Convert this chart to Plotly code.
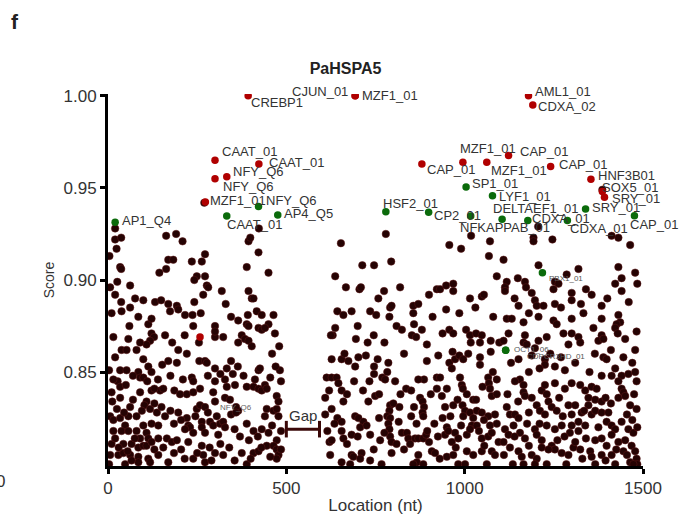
import plotly.graph_objects as go

# ---------------- data ----------------
# background (unlabelled) binding sites: (location nt, score)
bg_left = [
(20,0.922),(37,0.923),(24,0.917),(4,0.913),(163,0.924),(191,0.925),(209,0.921),(394,0.921),(399,0.923),(422,0.915),
(34,0.907),(37,0.906),(169,0.911),(183,0.911),(163,0.906),(144,0.904),(235,0.910),(263,0.910),(272,0.914),(389,0.907),
(450,0.904),(249,0.902),(272,0.902),(242,0.900),(277,0.897),(281,0.896),(26,0.899),(62,0.897),(6,0.896),(319,0.894),
(394,0.894),(267,0.892),(20,0.892),(37,0.888),(76,0.890),(99,0.889),(132,0.888),(149,0.889),(169,0.887),(193,0.886),
(197,0.884),(174,0.883),(242,0.888),(330,0.887),(403,0.890),(408,0.890),(10,0.882),(38,0.883),(62,0.885),(216,0.881),
(237,0.881),(260,0.882),(417,0.883),(392,0.881),(431,0.881),(464,0.881),(113,0.876),(122,0.879),(239,0.875),(300,0.875),
(389,0.876),(394,0.875),(122,0.871),(129,0.869),(118,0.867),(108,0.865),(90,0.866),(57,0.868),(15,0.869),(300,0.869),
(323,0.869),(300,0.872),(375,0.870),(384,0.868),(394,0.867),(365,0.866),(403,0.864),(422,0.874),(431,0.873),(450,0.876),
(440,0.874),(468,0.871),(480,0.864),(38,0.862),(52,0.862),(80,0.862),(197,0.862),(221,0.860),(99,0.857),(113,0.853),
(122,0.850),(152,0.854),(169,0.856),(193,0.855),(256,0.856),(272,0.856),(277,0.855),(300,0.852),(333,0.852),(345,0.856),
(364,0.853),(422,0.851),(426,0.852),(482,0.851),(20,0.858),(3,0.851),(34,0.851),(52,0.851),(85,0.850),(27,0.845),
(34,0.842),(10,0.839),(90,0.847),(99,0.847),(146,0.840),(155,0.841),(186,0.840),(202,0.838),(221,0.838),(239,0.839),
(258,0.841),(235,0.847),(239,0.845),(300,0.845),(295,0.839),(328,0.846),(333,0.842),(356,0.843),(389,0.842),(412,0.846),
(408,0.842),(422,0.841),(431,0.840),(440,0.843),(445,0.841),(473,0.837),(478,0.834),(90,0.839),(122,0.840),(130,0.841),
(62,0.831),(34,0.836),(108,0.834),(102,0.832),(118,0.830),(137,0.828),(249,0.830),(258,0.832),(272,0.831),(300,0.834),
(328,0.836),(342,0.835),(365,0.829),(445,0.830),(464,0.829),(473,0.830),(478,0.826),(6,0.826),(15,0.824),(34,0.825),
(48,0.821),(57,0.826),(15,0.818),(38,0.818),(57,0.818),(80,0.818),(90,0.814),(108,0.817),(113,0.814),(122,0.822),
(141,0.821),(99,0.821),(197,0.828),(221,0.825),(225,0.821),(230,0.820),(263,0.823),(263,0.820),(286,0.823),(295,0.821),
(314,0.822),(323,0.823),(328,0.820),(389,0.822),(408,0.818),(431,0.819),(440,0.826),(450,0.817),(473,0.813),(216,0.819),
(239,0.817),(272,0.817),(309,0.816),(10,0.811),(43,0.811),(66,0.811),(85,0.809),(99,0.810),(108,0.810),(122,0.812),
(141,0.814),(165,0.814),(179,0.812),(193,0.813),(225,0.812),(263,0.810),(300,0.806),(323,0.805),(375,0.806),(408,0.806),
(422,0.807),(445,0.810),(464,0.810),(473,0.808),(6,0.805),(29,0.805),(43,0.806),(62,0.805),(85,0.804),(113,0.803),
(141,0.805),(118,0.801),(85,0.801),(169,0.801),(239,0.803),(267,0.805),(272,0.801),(389,0.800),(478,0.805),(473,0.803),
(3,0.800),(48,0.800),(66,0.802),(20,0.928),(423,0.928),(270,0.942),(359,0.831),
(12,0.834),(25,0.830),(45,0.828),(70,0.835),(80,0.826),(95,0.829),(130,0.833),(150,0.831),(160,0.826),(175,0.829),
(185,0.822),(205,0.824),(245,0.826),(280,0.828),(305,0.826),(345,0.827),(355,0.819),(370,0.815),(395,0.813),(420,0.815),
(460,0.821),(485,0.818),(20,0.814),(30,0.809),(55,0.807),(75,0.814),(130,0.808),(155,0.809),(185,0.806),(205,0.808),
(215,0.803),(250,0.806),(285,0.809),(290,0.802),(315,0.811),(340,0.809),(355,0.802),(400,0.803),(430,0.809),(455,0.804),
(485,0.808),(15,0.846),(50,0.843),(70,0.848),(110,0.845),(140,0.846),(175,0.848),(210,0.846),(280,0.848),(315,0.849),
(350,0.849),(380,0.848),(455,0.847),(470,0.853),(485,0.845),(60,0.875),(85,0.880),(160,0.870),(180,0.866),(215,0.870),
(255,0.866),(345,0.880),(365,0.878),(460,0.860),
]
bg_mid = [
(779,0.925),(653,0.920),(957,0.919),(990,0.917),(1018,0.924),(1071,0.921),(1068,0.913),(1090,0.902),(713,0.908),(746,0.908),
(794,0.910),(637,0.902),(667,0.896),(705,0.895),(709,0.896),(774,0.894),(819,0.896),(758,0.890),(900,0.892),(922,0.895),
(931,0.895),(948,0.897),(968,0.898),(968,0.894),(1015,0.890),(1048,0.891),(1054,0.892),(643,0.883),(660,0.881),(683,0.883),
(735,0.883),(752,0.881),(791,0.885),(795,0.886),(789,0.880),(856,0.886),(870,0.887),(856,0.882),(948,0.884),(637,0.874),
(630,0.870),(625,0.870),(695,0.868),(728,0.866),(809,0.875),(824,0.873),(858,0.876),(852,0.870),(864,0.869),(894,0.865),
(938,0.871),(957,0.873),(968,0.871),(1004,0.873),(1015,0.870),(1032,0.871),(1048,0.870),(1043,0.866),(1017,0.866),(1073,0.867),
(1097,0.866),(627,0.857),(655,0.857),(663,0.860),(674,0.856),(693,0.853),(702,0.858),(723,0.859),(756,0.857),(746,0.853),
(786,0.855),(894,0.856),(926,0.859),(966,0.861),(957,0.855),(973,0.857),(985,0.859),(996,0.857),(1010,0.860),(1043,0.858),
(1043,0.854),(1073,0.861),(613,0.847),(627,0.847),(641,0.847),(646,0.844),(655,0.840),(733,0.845),(746,0.849),(769,0.847),
(783,0.850),(777,0.846),(836,0.841),(886,0.846),(922,0.847),(931,0.847),(964,0.852),(987,0.847),(992,0.843),(995,0.841),
(922,0.841),(936,0.837),(1006,0.838),(1024,0.835),(1032,0.835),(1066,0.847),(1068,0.844),(1079,0.850),(1071,0.841),(1076,0.837),
(1090,0.838),(609,0.836),(660,0.834),(730,0.834),(749,0.837),(791,0.832),(800,0.833),(817,0.831),(858,0.831),(875,0.836),
(882,0.834),(886,0.831),(945,0.831),(968,0.832),(994,0.832),(1001,0.829),(1015,0.828),(1034,0.829),(1048,0.828),(1066,0.826),
(1085,0.827),(609,0.827),(627,0.830),(643,0.825),(655,0.823),(693,0.826),(702,0.825),(716,0.823),(707,0.820),(789,0.829),
(783,0.826),(791,0.825),(786,0.822),(789,0.819),(882,0.828),(884,0.826),(938,0.825),(950,0.820),(996,0.826),(1024,0.825),
(1020,0.821),(1034,0.821),(1054,0.824),(1071,0.821),(1090,0.822),(621,0.812),(627,0.813),(655,0.818),(660,0.814),(683,0.816),
(735,0.816),(763,0.813),(791,0.815),(795,0.812),(809,0.811),(824,0.817),(838,0.817),(842,0.814),(847,0.811),(861,0.814),
(870,0.814),(884,0.814),(892,0.816),(895,0.818),(945,0.816),(954,0.818),(973,0.817),(982,0.814),(964,0.812),(1006,0.816),
(1015,0.819),(1048,0.814),(1066,0.815),(1076,0.817),(623,0.805),(655,0.801),(683,0.805),(688,0.804),(711,0.806),(707,0.803),
(735,0.802),(767,0.800),(795,0.806),(866,0.801),(870,0.805),(884,0.800),(908,0.807),(917,0.806),(950,0.804),(968,0.805),
(982,0.800),(1001,0.800),(1006,0.807),(1024,0.805),(1048,0.807),(1062,0.800),(1076,0.807),(1085,0.805),(856,0.800),(679,0.800),
(615,0.818),(635,0.822),(670,0.811),(700,0.815),(725,0.821),(745,0.808),(760,0.825),(775,0.817),(815,0.823),(830,0.808),
(850,0.826),(865,0.822),(900,0.812),(915,0.822),(925,0.815),(930,0.803),(960,0.826),(975,0.809),(990,0.821),(1040,0.818),
(1055,0.810),(1095,0.812),(620,0.840),(670,0.838),(690,0.845),(715,0.840),(760,0.838),(805,0.845),(820,0.838),(850,0.840),
(870,0.846),(905,0.838),(950,0.841),(980,0.835),(1050,0.842),(1090,0.846),(700,0.875),(745,0.870),(775,0.866),(830,0.860),
(880,0.873),(910,0.880),(985,0.882),(1030,0.885),(1080,0.880),
]
bg_right = [
(1193,0.923),(1246,0.922),(1193,0.921),(1431,0.923),(1464,0.919),(1109,0.911),(1207,0.908),(1319,0.906),(1286,0.903),(1253,0.899),
(1263,0.898),(1249,0.895),(1169,0.899),(1172,0.896),(1149,0.901),(1118,0.899),(1113,0.896),(1113,0.894),(1431,0.907),(1478,0.904),
(1440,0.901),(1422,0.898),(1484,0.898),(1440,0.894),(1188,0.893),(1197,0.889),(1202,0.886),(1221,0.886),(1253,0.887),(1300,0.893),
(1300,0.889),(1326,0.887),(1356,0.892),(1384,0.886),(1151,0.886),(1118,0.879),(1132,0.879),(1165,0.877),(1207,0.880),(1249,0.878),
(1258,0.876),(1300,0.879),(1333,0.882),(1384,0.879),(1431,0.881),(1436,0.877),(1426,0.876),(1422,0.874),(1429,0.871),(1361,0.874),
(1384,0.870),(1482,0.872),(1169,0.870),(1123,0.871),(1109,0.867),(1165,0.866),(1174,0.865),(1230,0.869),(1277,0.871),(1300,0.871),
(1319,0.869),(1324,0.866),(1291,0.865),(1207,0.867),(1375,0.867),(1389,0.868),(1450,0.868),(1478,0.862),(1151,0.857),(1197,0.863),
(1188,0.859),(1225,0.857),(1253,0.853),(1281,0.851),(1225,0.854),(1389,0.858),(1398,0.857),(1422,0.852),(1445,0.858),(1384,0.848),
(1412,0.848),(1440,0.848),(1459,0.849),(1478,0.850),(1482,0.845),(1431,0.845),(1155,0.846),(1141,0.845),(1165,0.843),(1165,0.839),
(1169,0.837),(1216,0.840),(1225,0.843),(1253,0.844),(1281,0.841),(1300,0.844),(1324,0.843),(1338,0.840),(1356,0.842),(1347,0.836),
(1366,0.835),(1384,0.834),(1440,0.841),(1445,0.839),(1431,0.836),(1450,0.837),(1464,0.832),(1482,0.830),(1118,0.831),(1127,0.827),
(1141,0.827),(1151,0.825),(1188,0.836),(1202,0.832),(1211,0.829),(1235,0.834),(1244,0.831),(1225,0.827),(1258,0.829),(1291,0.832),
(1300,0.827),(1328,0.828),(1319,0.823),(1347,0.832),(1356,0.827),(1366,0.829),(1384,0.828),(1403,0.828),(1398,0.823),(1412,0.821),
(1422,0.819),(1440,0.823),(1459,0.819),(1473,0.817),(1484,0.820),(1113,0.819),(1123,0.816),(1109,0.812),(1137,0.821),(1155,0.817),
(1169,0.814),(1197,0.819),(1202,0.816),(1216,0.813),(1230,0.821),(1253,0.819),(1272,0.821),(1295,0.817),(1300,0.821),(1319,0.818),
(1338,0.821),(1366,0.813),(1384,0.814),(1398,0.810),(1412,0.816),(1431,0.812),(1450,0.813),(1468,0.810),(1478,0.807),(1127,0.809),
(1151,0.807),(1160,0.804),(1188,0.805),(1202,0.803),(1216,0.809),(1244,0.810),(1253,0.808),(1272,0.806),(1291,0.805),(1305,0.809),
(1324,0.808),(1352,0.807),(1356,0.804),(1384,0.805),(1412,0.805),(1445,0.807),(1464,0.801),(1482,0.803),(1484,0.800),(1165,0.800),
(1197,0.800),(1230,0.800),(1366,0.800),(1422,0.800),(1473,0.800),(1412,0.924),(1206,0.929),(1386,0.949),
(1110,0.805),(1135,0.800),(1140,0.815),(1175,0.822),(1180,0.810),(1210,0.822),(1235,0.808),(1260,0.813),(1280,0.815),(1285,0.800),
(1310,0.812),(1330,0.803),(1340,0.814),(1375,0.820),(1395,0.802),(1425,0.808),(1455,0.805),(1470,0.824),(1120,0.838),(1150,0.834),
(1180,0.828),(1230,0.838),(1265,0.836),(1275,0.826),(1310,0.832),(1335,0.829),(1370,0.841),(1395,0.836),(1410,0.833),(1455,0.827),
(1475,0.838),(1130,0.855),(1180,0.850),(1210,0.852),(1240,0.860),(1270,0.858),(1310,0.855),(1350,0.850),(1365,0.860),(1410,0.862),
(1470,0.855),(1140,0.890),(1180,0.882),(1270,0.885),(1340,0.895),(1400,0.890),(1460,0.888),
]

# labelled high-scoring sites (red)
red_names = ["CREBP1","CJUN_01","MZF1_01","AML1_01","CDXA_02","CAAT_01","CAAT_01","NFY_Q6","NFY_Q6","MZF1_01",
             "CAP_01","MZF1_01","MZF1_01","CAP_01","CAP_01","HNF3B01","SOX5_01","SRY_01",""]
red_x = [393,693,693,1179,1191,300,423,300,333,273,880,995,1062,1123,1241,1354,1386,1392,258]
red_y = [1.000,1.000,1.000,1.000,0.995,0.965,0.963,0.955,0.956,0.9424,0.963,0.964,0.964,0.9676,0.9616,0.9547,0.948,0.9449,0.869]

# labelled sites (green)
green_names = ["AP1_Q4","CAAT_01","NFY_Q6","AP4_Q5","HSF2_01","CP2_01","SP1_01","LYF1_01","NFKAPPAB_01","DELTAEF1_01",
               "CDXA_01","CDXA_01","SRY_01","CAP_01"]
green_x = [20,333,422,476,779,899,1004,1078,1017,1105,1177,1288,1339,1476]
green_y = [0.9313,0.9348,0.9399,0.9353,0.937,0.9368,0.9505,0.9457,0.9348,0.933,0.9323,0.9323,0.9386,0.9349]

# small-font labelled sites
small_names = ["PBX1_01","OCT1_06","CDPCR3HD_01"]
small_x = [1218,1115,1115]
small_y = [0.904,0.8618,0.8618]
faint_name = "NFY_Q6"
faint_x, faint_y = 359, 0.831

gap_start, gap_end, gap_y = 500, 593, 0.819

x_ticks = [0, 500, 1000, 1500]
y_ticks = [0.85, 0.90, 0.95, 1.00]

# ---------------- label placement (pixels: dx right, dy down, anchor) ----------------
red_off = [(1,7,"left"),(-5,-4,"right"),(5,0,"left"),(4,-4,"left"),(3,1,"left"),(5,-9,"left"),(8,-1,"left"),(6,8,"left"),
           (4,-5,"left"),(3,-1,"left"),(3,6,"left"),(-5,-14,"left"),(2,8,"left"),(9,-4,"left"),(6,-2,"left"),(5,-4,"left"),
           (-2,-4,"left"),(6,1,"left"),(0,0,"left")]
green_off = [(5,-2,"left"),(-2,9,"left"),(5,-6,"left"),(4,-1,"left"),(-5,-8,"left"),(3,3,"left"),(4,-4,"left"),(5,1,"left"),
             (-13,12,"left"),(-11,-11,"left"),(2,-2,"left"),(1,8,"left"),(4,-1,"left"),(-6,9,"left")]
small_off = [(5,6,"left"),(6,-1,"left"),(19,6,"left")]

FONT = "Liberation Sans, Arial, sans-serif"
BG_COL = "#250303"
RED = "#b00000"
GREEN = "#0b6b0b"
LABEL_COL = "#333333"
MS = 7.5

fig = go.Figure()
allbg = bg_left + bg_mid + bg_right
bg_marker = dict(size=MS, color=BG_COL, line=dict(color="#5e1818", width=0.5))
fig.add_trace(go.Scatter(x=[p[0] for p in allbg], y=[p[1] for p in allbg], mode="markers",
                         marker=bg_marker, hoverinfo="skip", showlegend=False))
fig.add_trace(go.Scatter(x=[faint_x], y=[faint_y - 0.003], mode="markers",
                         marker=bg_marker, showlegend=False, hoverinfo="skip"))
fig.add_trace(go.Scatter(x=small_x, y=small_y, mode="markers",
                         marker=dict(size=MS, color=GREEN), showlegend=False, hoverinfo="skip"))
fig.add_trace(go.Scatter(x=green_x, y=green_y, mode="markers",
                         marker=dict(size=MS, color=GREEN), showlegend=False, hoverinfo="skip"))
fig.add_trace(go.Scatter(x=red_x, y=red_y, mode="markers",
                         marker=dict(size=MS, color=RED), showlegend=False, hoverinfo="skip"))

def add_labels(names, xs, ys, offs, size, color):
    for n, x, y, (dx, dy, anc) in zip(names, xs, ys, offs):
        if not n:
            continue
        fig.add_annotation(x=x, y=y, xref="x", yref="y", text=n, showarrow=False,
                           xanchor=anc, yanchor="middle", xshift=dx, yshift=-dy,
                           font=dict(family=FONT, size=size, color=color))

add_labels(red_names, red_x, red_y, red_off, 13, LABEL_COL)
add_labels(green_names, green_x, green_y, green_off, 13, LABEL_COL)
add_labels(small_names, small_x, small_y, small_off, 8, "#555555")
fig.add_annotation(x=faint_x, y=faint_y, xref="x", yref="y", text=faint_name, showarrow=False,
                   xanchor="center", yanchor="middle", font=dict(family=FONT, size=8, color="#666666"))

# Gap marker
fig.add_shape(type="line", x0=gap_start, x1=gap_end, y0=gap_y, y1=gap_y, xref="x", yref="y",
              line=dict(color="#3a0808", width=3))
for gx in (gap_start, gap_end):
    fig.add_shape(type="line", x0=gx, x1=gx, y0=gap_y - 0.0045, y1=gap_y + 0.0045, xref="x", yref="y",
                  line=dict(color="#3a0808", width=3))
fig.add_annotation(x=(gap_start + gap_end) / 2, y=gap_y, xref="x", yref="y", text="Gap", showarrow=False,
                   yanchor="bottom", yshift=3, font=dict(family=FONT, size=15, color="#333333"))

# panel letter & stray tick label from the neighbouring panel
fig.add_annotation(x=(15 - 108) / 535, y=(466 - 22) / 372, xref="paper", yref="paper", text="<b>f</b>",
                   showarrow=False, xanchor="center", yanchor="middle",
                   font=dict(family=FONT, size=21, color="#222222"))
fig.add_annotation(x=(0 - 108) / 535, y=(466 - 481) / 372, xref="paper", yref="paper", text="0",
                   showarrow=False, xanchor="center", yanchor="middle",
                   font=dict(family=FONT, size=17, color="#333333"))

fig.update_layout(
    width=691, height=519,
    margin=dict(l=108, r=48, t=94, b=53, autoexpand=False),
    paper_bgcolor="white", plot_bgcolor="white",
    font=dict(family=FONT, color="#333333"),
    title=dict(text="<b>PaHSPA5</b>", x=0.5, xanchor="center", y=1 - 68 / 519, yanchor="middle",
               font=dict(family=FONT, size=16, color="#222222")),
    xaxis=dict(range=[0, 1500], tickvals=x_ticks, ticktext=[str(v) for v in x_ticks], automargin=False,
               showgrid=False, zeroline=False, showline=True, linecolor="black", linewidth=3,
               ticks="outside", ticklen=5, tickwidth=3, tickcolor="black",
               tickfont=dict(family=FONT, size=17, color="#333333"),
               title=dict(text="Location (nt)", font=dict(family=FONT, size=17, color="#333333"), standoff=2)),
    yaxis=dict(range=[0.799, 1.001], tickvals=y_ticks, ticktext=[f"{v:.2f}" for v in y_ticks], automargin=False,
               showgrid=False, zeroline=False, showline=True, linecolor="black", linewidth=3,
               ticks="outside", ticklen=5, tickwidth=3, tickcolor="black",
               tickfont=dict(family=FONT, size=17, color="#333333"),
               title=dict(text="Score", font=dict(family=FONT, size=14, color="#333333"), standoff=6)),
)

fig.write_html("out.html")
